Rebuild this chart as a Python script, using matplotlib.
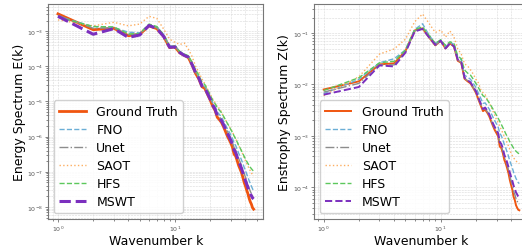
import numpy as np
import matplotlib
matplotlib.use("Agg")
import matplotlib.pyplot as plt
from matplotlib.ticker import NullFormatter

# wavenumbers
k = np.arange(1, 48)

# log10 of energy spectrum E(k)
gt_e = [-2.51, -2.96, -2.92, -3.13, -3.09, -2.85, -2.93, -3.15, -3.47, -3.45,
        -3.62, -3.69, -3.75, -3.96, -4.20, -4.36, -4.58, -4.63, -4.80, -4.96,
        -5.13, -5.25, -5.45, -5.52, -5.60, -5.72, -5.85, -5.98, -6.08, -6.18,
        -6.30, -6.50, -6.55, -6.68, -6.82, -6.92, -7.02, -7.15, -7.30, -7.40,
        -7.52, -7.62, -7.75, -7.85, -7.92, -8.02, -8.06]
fno_e = [-2.58, -2.87, -2.90, -3.03, -3.05, -2.82, -2.88, -3.10, -3.42, -3.42,
         -3.58, -3.66, -3.71, -3.92, -4.14, -4.30, -4.52, -4.57, -4.73, -4.88,
         -5.03, -5.14, -5.30, -5.37, -5.45, -5.55, -5.66, -5.77, -5.86, -5.95,
         -6.05, -6.18, -6.25, -6.36, -6.47, -6.56, -6.66, -6.76, -6.87, -6.96,
         -7.06, -7.15, -7.25, -7.33, -7.41, -7.48, -7.55]
unet_e = [-2.55, -2.92, -2.91, -3.10, -3.08, -2.84, -2.91, -3.13, -3.45, -3.44,
          -3.60, -3.68, -3.73, -3.94, -4.17, -4.33, -4.55, -4.60, -4.77, -4.92,
          -5.08, -5.20, -5.37, -5.44, -5.52, -5.62, -5.74, -5.85, -5.95, -6.05,
          -6.16, -6.31, -6.38, -6.50, -6.62, -6.72, -6.82, -6.93, -7.05, -7.15,
          -7.26, -7.36, -7.46, -7.55, -7.62, -7.69, -7.74]
saot_e = [-2.68, -2.85, -2.75, -2.85, -2.80, -2.58, -2.64, -2.94, -3.23, -3.32,
          -3.38, -3.34, -3.51, -3.72, -4.00, -4.17, -4.36, -4.50, -4.65, -4.79,
          -4.93, -5.03, -5.15, -5.20, -5.30, -5.45, -5.52, -5.62, -5.70, -5.78,
          -5.86, -5.98, -6.05, -6.15, -6.25, -6.32, -6.40, -6.50, -6.60, -6.68,
          -6.76, -6.84, -6.90, -6.97, -7.03, -7.08, -7.12]
hfs_e = [-2.60, -2.87, -2.88, -3.08, -3.07, -2.80, -2.87, -3.10, -3.43, -3.42,
         -3.58, -3.65, -3.70, -3.88, -4.10, -4.25, -4.45, -4.52, -4.67, -4.82,
         -4.96, -5.06, -5.18, -5.25, -5.32, -5.42, -5.52, -5.62, -5.70, -5.80,
         -5.88, -5.98, -6.06, -6.15, -6.25, -6.32, -6.40, -6.48, -6.56, -6.63,
         -6.70, -6.76, -6.82, -6.87, -6.91, -6.95, -6.98]
mswt_e = [-2.58, -3.09, -2.93, -3.18, -3.11, -2.84, -2.93, -3.15, -3.46, -3.45,
          -3.61, -3.69, -3.74, -3.95, -4.18, -4.34, -4.56, -4.62, -4.78, -4.93,
          -5.10, -5.22, -5.40, -5.47, -5.55, -5.66, -5.78, -5.90, -6.00, -6.10,
          -6.22, -6.38, -6.45, -6.58, -6.70, -6.80, -6.90, -7.02, -7.15, -7.25,
          -7.35, -7.45, -7.55, -7.62, -7.68, -7.74, -7.77]

# log10 of enstrophy spectrum Z(k)
gt_z = [-2.10, -1.94, -1.61, -1.59, -1.35, -0.95, -0.91, -1.09, -1.24, -1.15,
        -1.30, -1.20, -1.26, -1.54, -1.58, -1.89, -1.94, -1.98, -2.07, -2.16,
        -2.29, -2.41, -2.52, -2.49, -2.55, -2.62, -2.72, -2.81, -2.89, -2.95,
        -3.01, -3.21, -3.24, -3.34, -3.47, -3.54, -3.63, -3.73, -3.86, -3.96,
        -4.05, -4.19, -4.25, -4.35, -4.40, -4.44, -4.45]
fno_z = [-2.18, -1.90, -1.58, -1.50, -1.33, -0.93, -0.82, -1.05, -1.20, -1.14,
         -1.27, -1.18, -1.22, -1.48, -1.52, -1.82, -1.86, -1.90, -1.98, -2.06,
         -2.17, -2.27, -2.37, -2.36, -2.42, -2.48, -2.56, -2.64, -2.71, -2.77,
         -2.83, -2.95, -3.00, -3.08, -3.17, -3.24, -3.32, -3.40, -3.49, -3.56,
         -3.63, -3.71, -3.77, -3.83, -3.87, -3.91, -3.93]
unet_z = [-2.15, -1.98, -1.62, -1.62, -1.37, -0.96, -0.91, -1.09, -1.24, -1.15,
          -1.30, -1.20, -1.26, -1.53, -1.57, -1.88, -1.93, -1.97, -2.06, -2.15,
          -2.28, -2.39, -2.50, -2.47, -2.53, -2.60, -2.70, -2.79, -2.86, -2.92,
          -2.98, -3.16, -3.20, -3.30, -3.42, -3.49, -3.57, -3.67, -3.79, -3.88,
          -3.96, -4.08, -4.14, -4.22, -4.27, -4.31, -4.33]
saot_z = [-2.22, -1.85, -1.41, -1.31, -1.12, -0.78, -0.63, -0.82, -0.99, -0.94,
          -1.08, -0.96, -1.08, -1.31, -1.41, -1.60, -1.64, -1.72, -1.80, -1.90,
          -1.97, -2.10, -2.16, -2.20, -2.29, -2.36, -2.44, -2.52, -2.60, -2.69,
          -2.74, -2.82, -2.88, -2.95, -3.01, -3.08, -3.14, -3.20, -3.27, -3.34,
          -3.39, -3.43, -3.46, -3.49, -3.51, -3.53, -3.54]
hfs_z = [-2.12, -1.87, -1.58, -1.55, -1.33, -0.93, -0.88, -1.05, -1.20, -1.13,
         -1.24, -1.17, -1.20, -1.45, -1.50, -1.72, -1.78, -1.82, -1.90, -1.98,
         -2.06, -2.15, -2.22, -2.25, -2.30, -2.36, -2.42, -2.48, -2.54, -2.60,
         -2.66, -2.72, -2.78, -2.84, -2.90, -2.96, -3.01, -3.06, -3.12, -3.16,
         -3.20, -3.24, -3.27, -3.30, -3.32, -3.34, -3.35]
mswt_z = [-2.20, -2.05, -1.63, -1.65, -1.38, -0.97, -0.92, -1.09, -1.23, -1.15,
          -1.30, -1.20, -1.26, -1.52, -1.57, -1.87, -1.92, -1.96, -2.05, -2.13,
          -2.26, -2.37, -2.48, -2.45, -2.51, -2.58, -2.67, -2.76, -2.83, -2.89,
          -2.95, -3.12, -3.16, -3.25, -3.37, -3.44, -3.52, -3.61, -3.72, -3.80,
          -3.88, -3.97, -4.03, -4.10, -4.14, -4.18, -4.20]

labels = ["Ground Truth", "FNO", "Unet", "SAOT", "HFS", "MSWT"]
colors = ["#f0550f", "#6baed6", "#8c8c8c", "#fdae61", "#5cc85c", "#7b2fbe"]
styles = ["-", "--", "-.", ":", "--", "--"]

fig = plt.figure(figsize=(5.22, 2.53), dpi=100)
ax1 = fig.add_axes([0.0923, 0.1304, 0.4123, 0.8498])
ax2 = fig.add_axes([0.6013, 0.1304, 0.4123, 0.8498])

panels = [
    (ax1, [gt_e, fno_e, unet_e, saot_e, hfs_e, mswt_e], "Energy Spectrum E(k)",
     (10 ** -8.34, 10 ** -2.23), range(-8, -2), [2.0, 1.0, 1.0, 1.0, 1.0, 2.2]),
    (ax2, [gt_z, fno_z, unet_z, saot_z, hfs_z, mswt_z], "Enstrophy Spectrum Z(k)",
     (10 ** -4.62, 10 ** -0.435), range(-4, 0), [1.4, 1.0, 1.0, 1.0, 1.0, 1.4]),
]

for ax, series, ylab, ylim, decades, widths in panels:
    for vals, lab, c, ls, lw in zip(series, labels, colors, styles, widths):
        ax.plot(k, np.power(10.0, vals), ls=ls, color=c, lw=lw, label=lab)
    ax.set_xscale("log")
    ax.set_yscale("log")
    ax.set_ylim(*ylim)
    ax.set_yticks([10.0 ** d for d in decades])
    ax.set_xticks([1, 10])
    ax.xaxis.set_minor_formatter(NullFormatter())
    ax.yaxis.set_minor_formatter(NullFormatter())
    ax.grid(True, which="both", ls="--", lw=0.4, color="#d9d9d9")
    ax.tick_params(which="both", labelsize=4.5, colors="#555555",
                   length=2, width=0.5, pad=1.5)
    ax.tick_params(which="minor", length=1.2)
    for s in ax.spines.values():
        s.set_color("#777777")
        s.set_linewidth(0.8)
    ax.set_xlabel("Wavenumber k", fontsize=9, labelpad=0.5)
    ax.set_ylabel(ylab, fontsize=9, labelpad=1)
    ax.legend(loc="lower left", fontsize=9, framealpha=0.9, edgecolor="#cccccc",
              handlelength=2.15, handletextpad=0.85, labelspacing=0.4,
              borderpad=0.4, borderaxespad=0.45)

fig.savefig("out.png", dpi=100)
plt.close(fig)
